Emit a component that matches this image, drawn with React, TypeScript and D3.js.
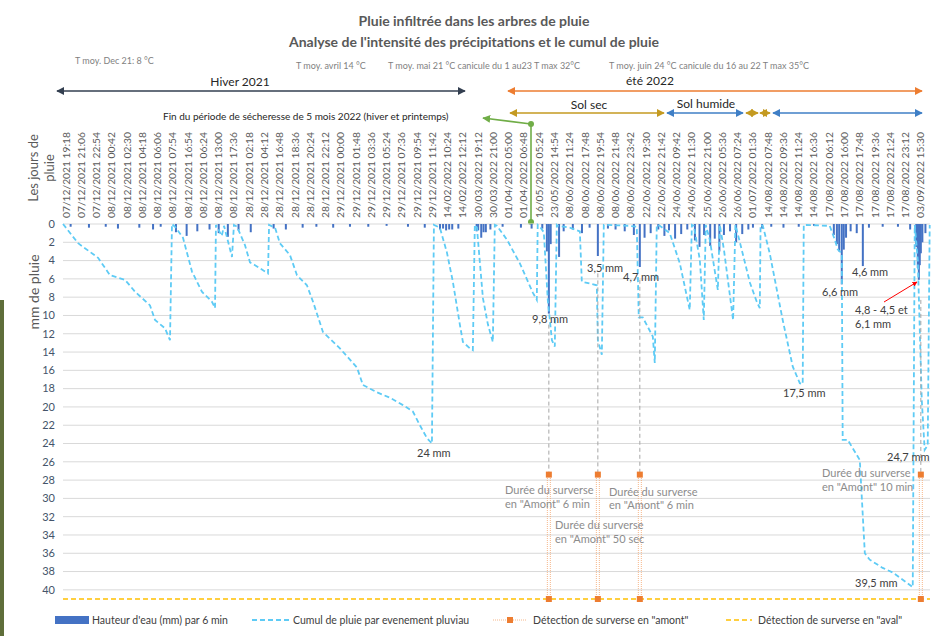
import React from 'react';
import * as d3 from 'd3';

// top axis categories (one label every 18 samples of 6 min)
const dateLabels = [
  '07/12/2021 19:18', '07/12/2021 21:06', '07/12/2021 22:54', '08/12/2021 00:42', '08/12/2021 02:30',
  '08/12/2021 04:18', '08/12/2021 06:06', '08/12/2021 07:54', '08/12/2021 16:54', '08/12/2021 06:24',
  '08/12/2021 13:00', '08/12/2021 17:36', '28/12/2021 02:18', '28/12/2021 04:12', '28/12/2021 16:48',
  '28/12/2021 18:36', '28/12/2021 20:24', '28/12/2021 22:12', '29/12/2021 00:00', '29/12/2021 01:48',
  '29/12/2021 03:36', '29/12/2021 05:24', '29/12/2021 07:36', '29/12/2021 09:54', '29/12/2021 11:42',
  '14/02/2022 10:24', '14/02/2022 12:12', '30/03/2022 19:12', '30/03/2022 21:00', '01/04/2022 05:00',
  '01/04/2022 06:48', '16/05/2022 05:24', '23/05/2022 14:54', '08/06/2022 11:24', '08/06/2022 17:48',
  '08/06/2022 19:54', '08/06/2022 21:48', '08/06/2022 23:42', '22/06/2022 19:30', '22/06/2022 21:42',
  '24/06/2022 09:42', '24/06/2022 11:30', '25/06/2022 21:00', '26/06/2022 05:36', '26/06/2022 07:24',
  '01/07/2022 01:36', '14/08/2022 07:48', '14/08/2022 09:36', '14/08/2022 11:24', '14/08/2022 16:36',
  '17/08/2022 06:12', '17/08/2022 16:00', '17/08/2022 17:48', '17/08/2022 19:36', '17/08/2022 21:24',
  '17/08/2022 23:12', '03/09/2022 15:30',
];

const yTicks = d3.range(0, 41, 2);

// cumul de pluie par evenement: [position on category axis, mm]
const cumul: [number, number][] = [
  [-0.2, 0], [0.79, 2.1], [2.1, 3.7], [2.88, 5.6], [3.86, 6.1], [4.52, 7.4], [5.5, 8.9], [5.83, 10.5],
  [6.48, 11.4], [6.81, 12.7], [6.94, 0],
  [7.14, 0.3], [7.66, 1.5], [8.25, 5.2], [8.9, 7.4], [9.56, 8.5], [9.76, 9.2], [9.82, 0.1],
  [10.2, 1.3], [10.35, 0.2], [10.87, 3.6], [11.0, 0.1],
  [11.2, 0.3], [11.72, 2.3], [12.05, 4.2], [12.38, 4.5], [13.03, 5.2], [13.23, 5.4], [13.3, 0.1],
  [13.69, 0.4], [14.01, 2.1], [14.67, 3.4], [15.13, 5.6], [15.78, 6.7], [16.18, 8.5], [16.83, 11.8],
  [17.94, 13.6], [19.06, 15.7], [19.45, 17.6], [20.37, 18.4], [21.22, 19.0], [22.07, 19.8], [22.72, 20.5],
  [23.18, 22.0], [23.64, 23.4], [23.97, 24.0], [24.1, 0.1],
  [24.49, 0.4], [24.95, 3.1], [25.34, 6.3], [25.8, 11.0], [26.0, 12.9], [26.46, 13.6], [26.65, 13.8], [26.78, 0.1],
  [26.92, 0.4], [27.11, 4.2], [27.31, 8.1], [27.64, 11.0], [27.96, 12.9], [28.09, 0.1],
  [28.23, 0.2], [28.88, 1.7], [29.73, 4.3], [30.58, 7.5], [30.84, 8.3], [30.9, 0.1],
  [31.04, 0.3], [31.3, 0.9], [31.56, 8.3], [31.83, 12.7], [32.02, 13.4], [32.15, 0.1],
  [32.22, 0.2], [33.0, 0.4], [33.66, 0.8], [33.79, 6.3], [34.77, 6.7], [34.84, 12.7], [35.1, 14.3], [35.23, 0.1],
  [35.36, 0.1], [36.93, 0.2], [37.39, 0.3], [37.52, 10.2], [37.78, 10.2], [38.44, 12.3], [38.57, 15.2], [38.7, 0.1],
  [38.9, 0.2], [39.55, 1.0], [40.21, 4.3], [40.86, 9.4], [41.0, 0.1],
  [41.13, 0.2], [41.52, 3.9], [41.78, 10.5], [41.91, 0.1],
  [42.17, 1.7], [42.7, 7.2], [42.83, 0.1],
  [43.1, 2.8], [43.7, 10.5], [43.85, 0.1],
  [44.1, 1.7], [44.8, 6.4], [45.25, 8.5], [45.45, 9.2], [45.5, 0.1],
  [45.65, 0.2], [46.1, 3.2], [46.95, 10.5], [47.61, 15.6], [48.07, 17.4], [48.26, 17.5], [48.33, 0.1],
  [50.03, 0.2], [50.36, 1.7], [50.56, 2.8], [50.82, 3.2], [50.88, 23.6], [51.21, 23.6], [52.0, 25.8],
  [52.33, 36.0], [52.65, 36.7], [53.5, 37.6], [54.16, 38.1], [55.07, 39.2], [55.47, 39.7], [55.6, 0.1],
  [55.8, 3.9], [56.06, 19.2], [56.25, 24.7], [56.45, 24.2], [56.58, 0.1],
];

// hauteur d'eau par 6 min: [position, mm]
const hauteur: [number, number][] = [
  [0.3, 0.3], [1.5, 0.4], [2.6, 0.3], [3.4, 0.5], [4.8, 0.4], [5.7, 0.6], [6.2, 0.3], [7.2, 0.9],
  [7.9, 1.3], [8.6, 0.8], [9.4, 0.6], [10.0, 1.0], [10.6, 1.4], [11.3, 0.7], [12.1, 0.9], [13.6, 0.5],
  [14.4, 0.6], [15.5, 0.4], [16.4, 0.3], [17.5, 0.4], [18.6, 0.3], [19.8, 0.3], [21.0, 0.2], [22.4, 0.3],
  [23.5, 0.4], [24.5, 0.6], [24.7, 0.5], [24.9, 0.7], [25.1, 0.6], [25.3, 0.6], [25.7, 0.5], [26.9, 0.8],
  [27.0, 0.7], [27.2, 1.5], [27.35, 0.9], [27.5, 0.9], [27.8, 0.6], [28.6, 0.3], [29.8, 0.4], [30.5, 0.5],
  [31.2, 0.5], [31.5, 3.0], [31.63, 9.8], [31.75, 2.2], [32.3, 3.6], [32.6, 0.8], [33.2, 0.6], [33.8, 1.0],
  [34.3, 0.4], [34.84, 3.5], [35.5, 0.5], [36.0, 0.6], [36.6, 0.8], [37.2, 1.2], [37.59, 4.7], [37.9, 1.5],
  [38.3, 1.0], [38.8, 0.6], [39.2, 1.3], [39.5, 0.7], [39.9, 1.6], [40.3, 1.1], [40.7, 0.6], [41.2, 1.8],
  [41.5, 2.5], [41.8, 1.2], [42.2, 2.4], [42.5, 1.6], [42.8, 3.0], [43.1, 1.2], [43.5, 0.8], [43.9, 2.0],
  [44.3, 1.1], [44.7, 0.6], [45.0, 0.4], [45.6, 0.5], [46.2, 0.3], [47.0, 0.4], [48.0, 0.3], [49.0, 0.2],
  [50.3, 1.2], [50.5, 2.2], [50.65, 3.0], [50.82, 6.6], [50.95, 2.8], [51.1, 1.5], [51.4, 0.8], [51.8, 1.0],
  [52.2, 4.6], [52.6, 0.4], [53.5, 0.3], [54.5, 0.3], [55.3, 0.6], [55.7, 2.5], [55.8, 4.8], [55.87, 6.1],
  [55.93, 4.5], [56.0, 3.2], [56.1, 2.0], [56.3, 1.0],
];

// détection de surverse en "amont": position, level reached, start of drop line
const amontPos = [31.63, 34.84, 37.59, 56.0];
const amontDropFrom = [11.0, 5.4, 6.1, 8.3];
const amontHigh = 27.4;
const avalLevel = 41;

const FONT = 'Lato, "Open Sans", sans-serif';

const Arrow = ({ x1, y1, x2, y2, color, both = true }: any) => (
  <line x1={x1} y1={y1} x2={x2} y2={y2} stroke={color} strokeWidth={1.6}
    markerStart={both ? `url(#ah-${color.slice(1)})` : undefined}
    markerEnd={`url(#ah-${color.slice(1)})`} />
);

export default function App() {
  const x = d3.scaleLinear().domain([-0.2, 56.6]).range([63, 930]);
  const y = d3.scaleLinear().domain([0, 41]).range([224, 599]);
  const line = d3.line<[number, number]>().x(d => x(d[0])).y(d => y(d[1]));
  const arrowColors = ['#333f50', '#ed7d31', '#c49a21', '#3f7fc6', '#70ad47', '#ff0000'];

  return (
    <svg width={948} height={636} style={{ position: 'absolute', left: 0, top: 0, background: '#fff', fontFamily: FONT }}>
      <defs>
        {arrowColors.map(c => (
          <marker key={c} id={`ah-${c.slice(1)}`} viewBox="0 0 10 10" refX="9" refY="5"
            markerWidth="5" markerHeight="5" orient="auto-start-reverse">
            <path d="M0,0L10,5L0,10z" fill={c} />
          </marker>
        ))}
      </defs>
      <rect x={0} y={300} width={4} height={336} fill="#5f6e3a" />

      {/* titles */}
      <text x={474} y={26} textAnchor="middle" fontSize={14} fontWeight={700} fill="#595959">
        Pluie infiltrée dans les arbres de pluie
      </text>
      <text x={474} y={47} textAnchor="middle" fontSize={14} fontWeight={700} fill="#595959">
        Analyse de l'intensité des précipitations et le cumul de pluie
      </text>

      {/* temperatures */}
      <g fontSize={9} fill="#7f7f7f">
        <text x={75} y={64}>T moy. Dec 21: 8 °C</text>
        <text x={296} y={69}>T moy. avril 14 °C</text>
        <text x={388} y={69}>T moy. mai 21 °C canicule du 1 au23 T max 32°C</text>
        <text x={609} y={69}>T moy. juin 24 °C canicule du 16 au 22 T max 35°C</text>
      </g>

      {/* periods */}
      <g fontSize={12} fill="#262626">
        <text x={240} y={86} textAnchor="middle">Hiver 2021</text>
        <text x={650} y={85} textAnchor="middle">été 2022</text>
        <text x={589} y={109} textAnchor="middle">Sol sec</text>
        <text x={706} y={108} textAnchor="middle">Sol humide</text>
      </g>
      <Arrow x1={57} y1={91} x2={465} y2={91} color="#333f50" />
      <Arrow x1={508} y1={91} x2={922} y2={91} color="#ed7d31" />
      <Arrow x1={510} y1={113} x2={664} y2={113} color="#c49a21" />
      <Arrow x1={667} y1={113} x2={743} y2={113} color="#3f7fc6" />
      <Arrow x1={746} y1={113} x2={758} y2={113} color="#c49a21" />
      <Arrow x1={760} y1={113} x2={770} y2={113} color="#c49a21" />
      <Arrow x1={773} y1={113} x2={922} y2={113} color="#3f7fc6" />

      <text x={163} y={120} fontSize={10} fill="#262626">Fin du période de sécheresse de 5 mois 2022 (hiver et printemps)</text>
      <line x1={531} y1={124} x2={483} y2={118} stroke="#70ad47" strokeWidth={1.6} markerEnd="url(#ah-70ad47)" />
      <line x1={531} y1={124} x2={531} y2={222} stroke="#70ad47" strokeWidth={1.6} />
      <circle cx={531} cy={124} r={3} fill="#70ad47" />
      <circle cx={531} cy={222} r={3} fill="#70ad47" />

      {/* axis titles */}
      <g fill="#595959">
        <text transform="translate(38,168) rotate(-90)" textAnchor="middle" fontSize={13}>Les jours de</text>
        <text transform="translate(54,168) rotate(-90)" textAnchor="middle" fontSize={13}>pluie</text>
        <text transform="translate(39,292) rotate(-90)" textAnchor="middle" fontSize={14}>mm de pluie</text>
      </g>

      {/* gridlines + y ticks */}
      {yTicks.map(t => (
        <g key={t}>
          <line x1={63} x2={930} y1={y(t)} y2={y(t)} stroke="#d9d9d9" strokeWidth={1} />
          <text x={55} y={y(t)} dy="0.35em" textAnchor="end" fontSize={11} fill="#44546a">{t}</text>
        </g>
      ))}

      {/* date labels */}
      {dateLabels.map((d, i) => (
        <text key={i} transform={`translate(${x(i)},218) rotate(-90)`} dy="0.35em" fontSize={10}
          fill="#595959" textLength={86} lengthAdjust="spacingAndGlyphs">{d}</text>
      ))}

      {/* bars */}
      {hauteur.map((d, i) => (
        <rect key={i} x={x(d[0]) - 1} y={y(0)} width={2} height={y(d[1]) - y(0)} fill="#4472c4" />
      ))}

      {/* cumul */}
      <path d={line(cumul) || ''} fill="none" stroke="#5ecbf5" strokeWidth={1.8} strokeDasharray="5,3" />

      {/* drop lines */}
      {amontPos.map((p, i) => (
        <line key={i} x1={x(p)} x2={x(p)} y1={y(amontDropFrom[i])} y2={y(amontHigh)} stroke="#a6a6a6" strokeWidth={1} strokeDasharray="4,3" />
      ))}

      {/* aval */}
      <line x1={x(-0.2)} x2={x(56.6)} y1={y(avalLevel)} y2={y(avalLevel)} stroke="#ffc000" strokeWidth={1.6} strokeDasharray="5,3" />

      {/* amont */}
      {amontPos.map((p, i) => (
        <g key={i}>
          <line x1={x(p) - 1.5} x2={x(p) - 1.5} y1={y(avalLevel)} y2={y(amontHigh)} stroke="#f4a36b" strokeWidth={0.8} strokeDasharray="1,1" />
          <line x1={x(p) + 1.5} x2={x(p) + 1.5} y1={y(avalLevel)} y2={y(amontHigh)} stroke="#f4a36b" strokeWidth={0.8} strokeDasharray="1,1" />
          <rect x={x(p) - 3} y={y(amontHigh) - 3} width={6} height={6} fill="#ed7d31" />
          <rect x={x(p) - 3} y={y(avalLevel) - 3} width={6} height={6} fill="#ed7d31" />
        </g>
      ))}

      {/* value labels */}
      <g fontSize={11} fill="#404040">
        <text x={532} y={323}>9,8 mm</text>
        <text x={587} y={272}>3,5 mm</text>
        <text x={623} y={281}>4,7 mm</text>
        <text x={417} y={457}>24 mm</text>
        <text x={783} y={397}>17,5 mm</text>
        <text x={822} y={296}>6,6 mm</text>
        <text x={852} y={276}>4,6 mm</text>
        <text x={855} y={314}>4,8 - 4,5 et</text>
        <text x={855} y={328}>6,1 mm</text>
        <text x={887} y={461}>24,7 mm</text>
        <text x={855} y={587}>39,5 mm</text>
      </g>
      <line x1={884} y1={302} x2={917} y2={282} stroke="#ff0000" strokeWidth={1} markerEnd="url(#ah-ff0000)" />

      <g fontSize={11} fill="#8c8c8c">
        <text x={505} y={494}>Durée du surverse</text>
        <text x={505} y={508}>en "Amont" 6 min</text>
        <text x={555} y={529}>Durée du surverse</text>
        <text x={555} y={543}>en "Amont" 50 sec</text>
        <text x={609} y={496}>Durée du surverse</text>
        <text x={609} y={509}>en "Amont" 6 min</text>
        <text x={822} y={477}>Durée du surverse</text>
        <text x={822} y={491}>en "Amont" 10 min</text>
      </g>

      {/* legend */}
      <g fontSize={10.5} fill="#404040">
        <rect x={55} y={616} width={34} height={8} fill="#4472c4" />
        <text x={92} y={624}>Hauteur d'eau (mm) par 6 min</text>
        <line x1={252} x2={289} y1={620} y2={620} stroke="#5ecbf5" strokeWidth={1.8} strokeDasharray="5,3" />
        <text x={293} y={624}>Cumul de pluie par evenement pluviau</text>
        <line x1={493} x2={527} y1={620} y2={620} stroke="#f4a36b" strokeWidth={0.8} strokeDasharray="1,1" />
        <rect x={507} y={617} width={6} height={6} fill="#ed7d31" />
        <text x={533} y={624}>Détection de surverse en "amont"</text>
        <line x1={726} x2={752} y1={620} y2={620} stroke="#ffc000" strokeWidth={1.6} strokeDasharray="5,3" />
        <text x={758} y={624}>Détection de surverse en "aval"</text>
      </g>
    </svg>
  );
}
